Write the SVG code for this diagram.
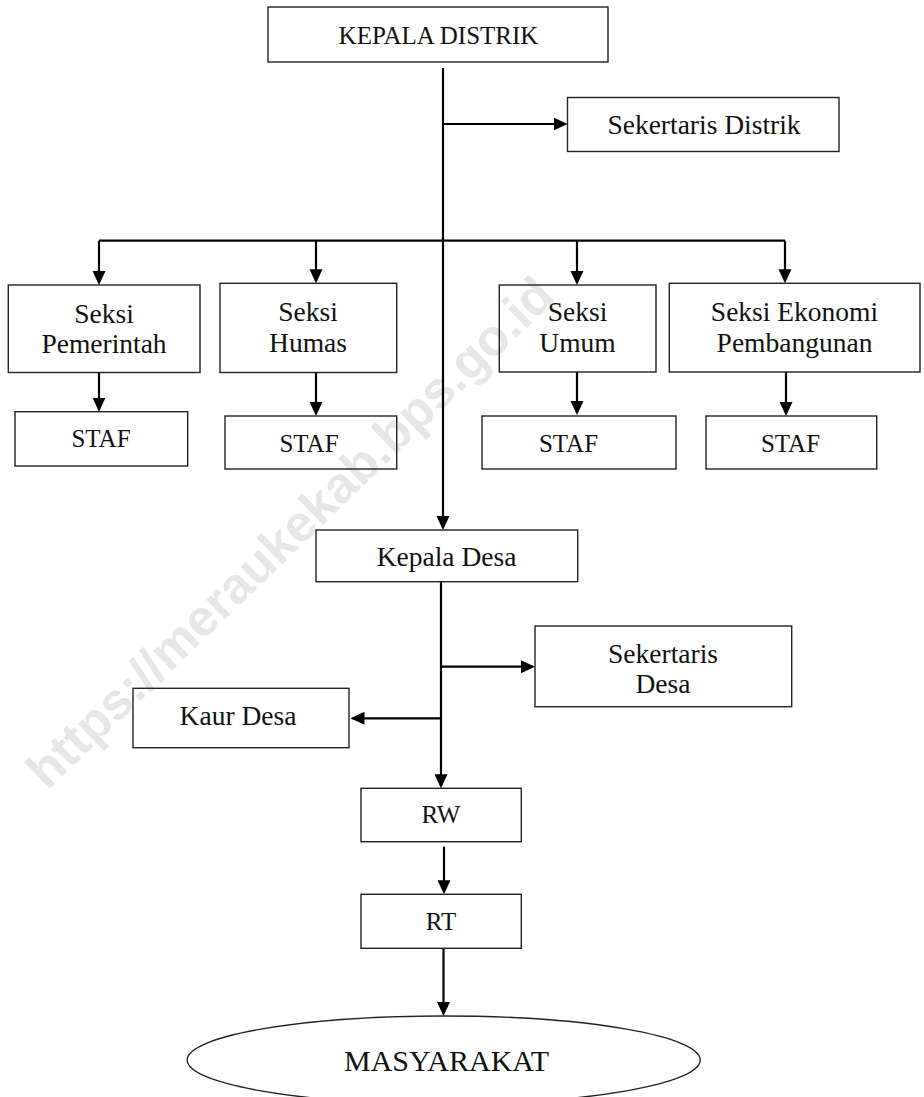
<svg xmlns="http://www.w3.org/2000/svg" width="924" height="1097" viewBox="0 0 924 1097">
<defs>
<marker id="ah" markerUnits="userSpaceOnUse" viewBox="0 0 14 14" markerWidth="14" markerHeight="14" refX="12" refY="7" orient="auto">
<path d="M0,0.5 L14,7 L0,13.5 Z" fill="#000"/>
</marker>
<style>
.box{fill:none;stroke:#222;stroke-width:1.4}
.t{font-family:"Liberation Serif","Times New Roman",serif;font-size:27.5px;fill:#111;text-anchor:middle}
.c{font-family:"Liberation Serif","Times New Roman",serif;font-size:25px;fill:#111;text-anchor:middle}
.big{font-family:"Liberation Serif","Times New Roman",serif;font-size:30px;fill:#111;text-anchor:middle}
.wm{font-family:"Liberation Sans",Arial,sans-serif;font-weight:bold;font-size:51px;fill:#e6e6e6;text-anchor:middle}
#connectors path{fill:none;stroke:#000;stroke-width:2.2}
#connectors path.a{marker-end:url(#ah)}
</style>
</defs>
<rect width="924" height="1097" fill="#fff"/>
<text class="wm" transform="translate(302,545) rotate(-44)">https://meraukekab.bps.go.id</text>

<g id="connectors">
<path class="a" d="M443,68 V528"/>
<path class="a" d="M443,124 H565.5"/>
<path d="M99,240.7 H785"/>
<path class="a" d="M99,240.7 V283"/>
<path class="a" d="M316,240.7 V281.3"/>
<path class="a" d="M577,240.7 V283"/>
<path class="a" d="M785,240.7 V281.3"/>
<path class="a" d="M99,372.5 V409.7"/>
<path class="a" d="M316,372.5 V414"/>
<path class="a" d="M577,372 V413"/>
<path class="a" d="M786,372 V414"/>
<path class="a" d="M441,581.7 V786.3"/>
<path class="a" d="M441,666.7 H533"/>
<path class="a" d="M441,718.3 H352.5"/>
<path class="a" d="M444,846.7 V892.3"/>
<path class="a" d="M443.5,948.3 V1014"/>
</g>

<g id="kepala-distrik">
<rect class="box" x="268" y="7" width="340" height="55"/>
<text class="c" x="438.5" y="44">KEPALA DISTRIK</text>
</g>
<g id="sekertaris-distrik">
<rect class="box" x="567.5" y="97.5" width="271.5" height="54"/>
<text class="t" x="704" y="134">Sekertaris Distrik</text>
</g>
<g id="seksi-pemerintah">
<rect class="box" x="8.3" y="285" width="191.7" height="87.5"/>
<text class="t" x="104" y="322.7">Seksi</text>
<text class="t" x="104" y="353.3">Pemerintah</text>
</g>
<g id="seksi-humas">
<rect class="box" x="220" y="283.3" width="176.7" height="89.2"/>
<text class="t" x="308" y="320.7">Seksi</text>
<text class="t" x="308" y="351.7">Humas</text>
</g>
<g id="seksi-umum">
<rect class="box" x="499.3" y="285" width="156.7" height="87"/>
<text class="t" x="577.5" y="320.7">Seksi</text>
<text class="t" x="577.5" y="351.7">Umum</text>
</g>
<g id="seksi-ekonomi">
<rect class="box" x="669.3" y="283.3" width="250.7" height="88.7"/>
<text class="t" x="794.5" y="320.7">Seksi Ekonomi</text>
<text class="t" x="794.5" y="351.7">Pembangunan</text>
</g>
<g id="staf-1">
<rect class="box" x="15" y="411.7" width="172.7" height="54.3"/>
<text class="c" x="101" y="446.7">STAF</text>
</g>
<g id="staf-2">
<rect class="box" x="225" y="416" width="171.7" height="53"/>
<text class="c" x="309" y="451.7">STAF</text>
</g>
<g id="staf-3">
<rect class="box" x="482" y="416" width="194" height="53"/>
<text class="c" x="568.5" y="451.7">STAF</text>
</g>
<g id="staf-4">
<rect class="box" x="706" y="416" width="170.7" height="53"/>
<text class="c" x="790.5" y="451.7">STAF</text>
</g>
<g id="kepala-desa">
<rect class="box" x="316" y="530" width="261.7" height="51.7"/>
<text class="t" x="446.5" y="566">Kepala Desa</text>
</g>
<g id="sekertaris-desa">
<rect class="box" x="535" y="626" width="256.7" height="80.7"/>
<text class="t" x="663" y="662.7">Sekertaris</text>
<text class="t" x="663" y="693.3">Desa</text>
</g>
<g id="kaur-desa">
<rect class="box" x="133" y="688.3" width="216" height="59.4"/>
<text class="t" x="238" y="725">Kaur Desa</text>
</g>
<g id="rw">
<rect class="box" x="361" y="788.3" width="160.3" height="53.4"/>
<text class="c" x="441" y="823.3">RW</text>
</g>
<g id="rt">
<rect class="box" x="361" y="894.3" width="160.3" height="54"/>
<text class="c" x="441" y="930">RT</text>
</g>
<g id="masyarakat">
<ellipse cx="443.7" cy="1060" rx="256.5" ry="44" fill="none" stroke="#222" stroke-width="1.4"/>
<text class="big" x="446.5" y="1071">MASYARAKAT</text>
</g>
</svg>
